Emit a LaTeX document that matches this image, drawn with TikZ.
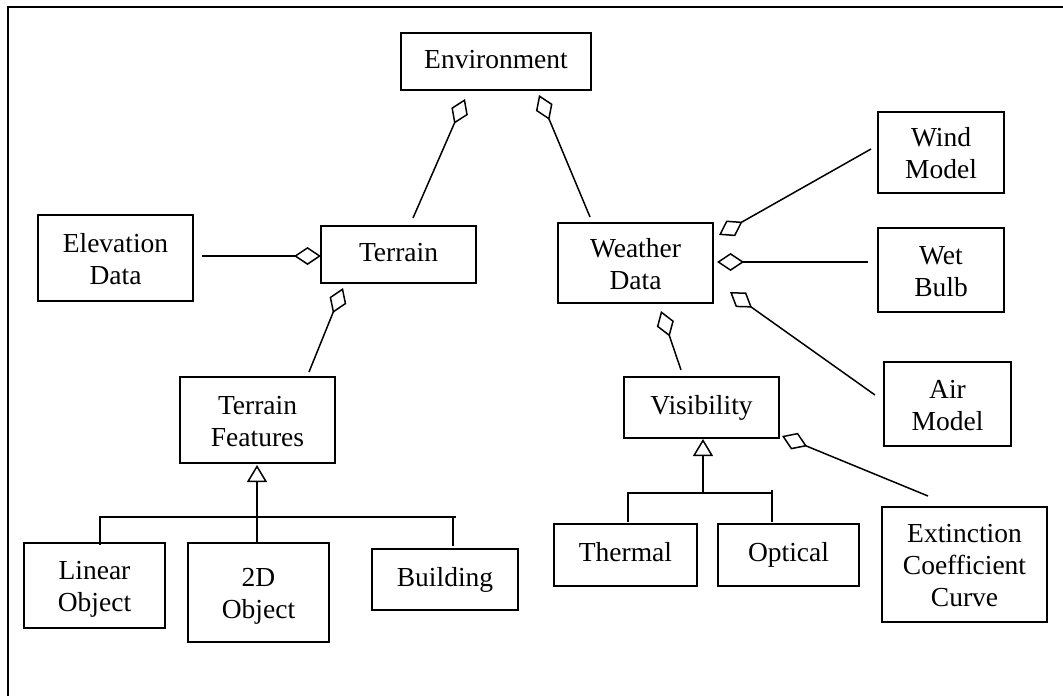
\documentclass[tikz,border=0pt]{standalone}
\usepackage{fontspec}
\setmainfont{Liberation Serif}
\usetikzlibrary{arrows.meta}
% struts: one for lines of stacked labels, one for single-line labels
\newcommand\linestrut{\rule[-6pt]{0pt}{32pt}}
\newcommand\onestrut{\rule[-9pt]{0pt}{31pt}}
\begin{document}
\begin{tikzpicture}[x=1pt,y=-1pt,
  box/.style={draw, line width=1.8pt, inner sep=0pt, align=center,
    font=\fontsize{27.5}{32}\selectfont},
  link/.style={line width=1.5pt},
  aggr/.style={link, -{Diamond[open, length=27pt, width=18pt, line width=1.5pt]}},
  isa/.style={link, -{Triangle[open, length=17pt, width=20pt, line width=1.5pt]}}]
\useasboundingbox (0,0) rectangle (1063,696);
% frame
\draw[line width=1.8pt] (8,696) -- (8,7) -- (1063,7);

% classes: box(x0,y0,x1,y1)
\newcommand\cls[6]{\node[box, minimum width={#4-#2}, minimum height={#5-#3}]
  (#1) at ({(#2+#4)/2},{(#3+#5)/2}) {#6};}
\cls{env}{401}{33}{591}{90}{Environment\onestrut}
\cls{elev}{38}{215}{193}{301}{Elevation\linestrut\\Data\linestrut}
\cls{terrain}{321}{226}{476}{283}{Terrain\onestrut}
\cls{weather}{558}{223}{713}{303}{Weather\linestrut\\Data\linestrut}
\cls{wind}{878}{112}{1004}{193}{Wind\linestrut\\Model\linestrut}
\cls{wet}{878}{228}{1004}{312}{Wet\linestrut\\Bulb\linestrut}
\cls{air}{884}{362}{1011}{446}{Air\linestrut\\Model\linestrut}
\cls{tf}{180}{377}{335}{463}{Terrain\linestrut\\Features\linestrut}
\cls{vis}{624}{377}{779}{438}{Visibility\onestrut}
\cls{linear}{24}{543}{165}{628}{Linear\linestrut\\Object\linestrut}
\cls{twod}{188}{543}{329}{642}{2D\linestrut\\Object\linestrut}
\cls{building}{372}{549}{518}{610}{Building\onestrut}
\cls{thermal}{554}{524}{697}{586}{Thermal\onestrut}
\cls{optical}{718}{524}{859}{586}{Optical\onestrut}
\cls{ext}{882}{507}{1047}{622}{Extinction\linestrut\\Coefficient\linestrut\\Curve\linestrut}

% aggregation end points
\coordinate (envA) at (465,99);   \coordinate (terA) at (413,218);
\coordinate (envB) at (539,95);   \coordinate (weaA) at (590,217);
\coordinate (terB) at (321,256);  \coordinate (eleA) at (202,256);
\coordinate (terC) at (343,288);  \coordinate (tfA)  at (309,372);
\coordinate (weaB) at (719,235);  \coordinate (winA) at (871,149);
\coordinate (weaC) at (717,262);  \coordinate (wetA) at (868,262);
\coordinate (weaD) at (730,292);  \coordinate (airA) at (875,395);
\coordinate (weaE) at (661,311);  \coordinate (visA) at (681,370);
\coordinate (visB) at (782,436);  \coordinate (extA) at (928,496);

\draw[aggr] (terA) -- (envA);
\draw[aggr] (weaA) -- (envB);
\draw[aggr] (eleA) -- (terB);
\draw[aggr] (tfA) -- (terC);
\draw[aggr] (winA) -- (weaB);
\draw[aggr] (wetA) -- (weaC);
\draw[aggr] (airA) -- (weaD);
\draw[aggr] (visA) -- (weaE);
\draw[aggr] (extA) -- (visB);

% generalisation of terrain features
\coordinate (tfT) at (257,465);
\draw[isa] (twod.north -| tfT) -- (tfT);
\draw[link] (100,545) -- (100,517) -- (456,517);
\draw[link] (453,517) -- (453,546);

% generalisation of visibility
\coordinate (visT) at (703,439);
\draw[isa] (703,493) -- (visT);
\draw[link] (628,522) -- (628,493) -- (773,493);
\draw[link] (772,490) -- (772,522);
\end{tikzpicture}
\end{document}
